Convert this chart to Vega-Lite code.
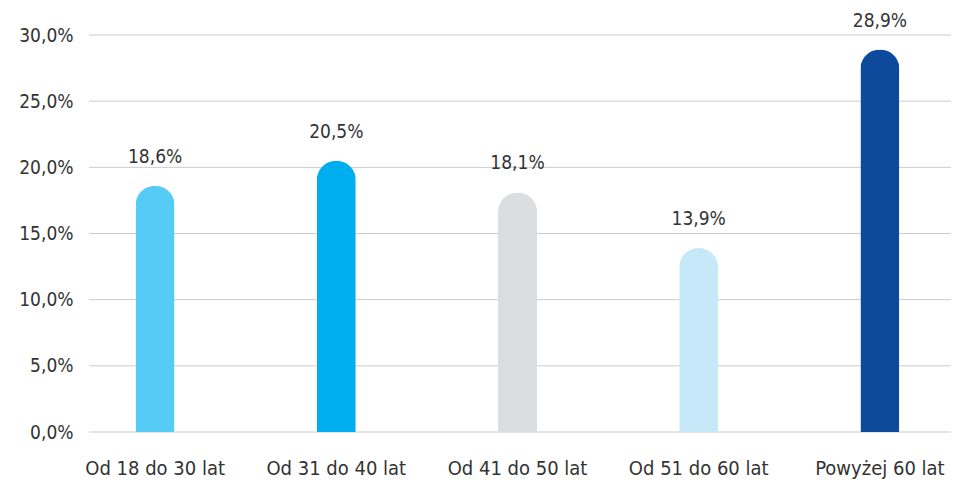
{
  "$schema": "https://vega.github.io/schema/vega-lite/v6.json",
  "width": 862,
  "height": 397,
  "autosize": "none",
  "padding": {"left": 89, "top": 35, "right": 12, "bottom": 49},
  "background": "white",
  "config": {"view": {"stroke": null}, "font": "DejaVu Sans Condensed"},
  "datasets": {
    "bars": [
      {"grupa": "Od 18 do 30 lat", "udzial": 18.6, "kolor": "#56CBF5"},
      {"grupa": "Od 31 do 40 lat", "udzial": 20.5, "kolor": "#00AEEF"},
      {"grupa": "Od 41 do 50 lat", "udzial": 18.1, "kolor": "#DCDDDF"},
      {"grupa": "Od 51 do 60 lat", "udzial": 13.9, "kolor": "#C6E8F8"},
      {"grupa": "Powyżej 60 lat", "udzial": 28.9, "kolor": "#0E4A9C"}
    ],
    "grid": [{"v": 0}, {"v": 5}, {"v": 10}, {"v": 15}, {"v": 20}, {"v": 25}, {"v": 30}]
  },
  "layer": [
    {
      "data": {"name": "grid"},
      "mark": {"type": "rule", "color": "#CCCCCC", "strokeWidth": 1},
      "encoding": {
        "y": {"field": "v", "type": "quantitative", "scale": {"domain": [0, 30]},
          "axis": {"title": null, "values": [0, 5, 10, 15, 20, 25, 30], "domain": false, "ticks": false, "grid": false,
            "labelPadding": 16, "labelFontSize": 19, "labelColor": "#333333", "labelFont": "DejaVu Sans Condensed",
            "labelExpr": "replace(format(datum.value, '.1f'), '.', ',') + '%'"}}
      }
    },
    {
      "data": {"name": "bars"},
      "encoding": {
        "x": {"field": "grupa", "type": "nominal", "sort": null,
          "scale": {"range": [-24.5, 881.5], "paddingInner": 0, "paddingOuter": 0},
          "axis": {"title": null, "labelAngle": 0, "domain": false, "ticks": false, "grid": false, "labelPadding": 26,
            "labelFontSize": 20, "labelColor": "#333333", "labelFont": "DejaVu Sans Condensed"}},
        "y": {"field": "udzial", "type": "quantitative"}
      },
      "layer": [
        {"mark": {"type": "bar", "size": 39, "cornerRadiusTopLeft": 19.5, "cornerRadiusTopRight": 19.5},
         "encoding": {"color": {"field": "kolor", "type": "nominal", "scale": null}}},
        {"mark": {"type": "text", "dy": -29, "fontSize": 19, "color": "#333333", "font": "DejaVu Sans Condensed"},
         "encoding": {"text": {"field": "label"}},
         "transform": [{"calculate": "replace(format(datum.udzial, '.1f'), '.', ',') + '%'", "as": "label"}]}
      ]
    }
  ]
}
